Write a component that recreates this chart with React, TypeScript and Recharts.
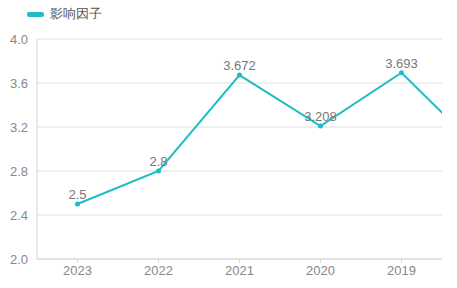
import React from 'react';
import { LineChart, Line, XAxis, YAxis, CartesianGrid, LabelList } from 'recharts';

const years = ['2023', '2022', '2021', '2020', '2019', '2018'];
const impactFactor = [2.5, 2.8, 3.672, 3.208, 3.693, 2.97];
const yTicks = [2.0, 2.4, 2.8, 3.2, 3.6, 4.0];
const visibleCount = 5;
const seriesName = '影响因子';

const data = years.map((year, i) => ({
  idx: i,
  year,
  value: impactFactor[i],
  label: i < visibleCount ? impactFactor[i] : null,
}));

const TEAL = '#1fbcc6';
const FONT = '"Liberation Sans", Arial, sans-serif';

export default function App() {
  return (
    <div style={{ position: 'absolute', left: 0, top: 0, width: 457, height: 288, background: '#fff', fontFamily: FONT }}>
      <div style={{ position: 'absolute', left: 27, top: 5, display: 'flex', alignItems: 'center', fontSize: 13, color: '#555' }}>
        <span style={{ display: 'inline-block', width: 17, height: 5, borderRadius: 2, background: TEAL, marginRight: 6 }} />
        <span>{seriesName}</span>
      </div>
      <LineChart width={457} height={288} data={data} margin={{ top: 39, right: 15, left: 0, bottom: 0 }}>
        <CartesianGrid vertical={false} stroke="#e0e0e0" />
        <XAxis
          dataKey="idx"
          type="number"
          domain={[-0.5, visibleCount - 0.5]}
          ticks={[0, 1, 2, 3, 4]}
          allowDataOverflow
          tickFormatter={(i: number) => years[i]}
          height={29}
          stroke="#d6d6d6"
          tickSize={4}
          tickMargin={3}
          tick={{ fill: '#888', fontSize: 13, fontFamily: FONT }}
        />
        <YAxis
          domain={[2, 4]}
          ticks={yTicks}
          width={37}
          stroke="#d6d6d6"
          tickLine={false}
          tickMargin={3}
          tickFormatter={(v: number) => v.toFixed(1)}
          tick={{ fill: '#888', fontSize: 13, fontFamily: FONT }}
        />
        <Line
          dataKey="value"
          stroke={TEAL}
          strokeWidth={2}
          dot={{ r: 2.5, fill: TEAL, stroke: TEAL, strokeWidth: 0 }}
          activeDot={false}
          isAnimationActive={false}
        >
          <LabelList dataKey="label" position="top" offset={5} fill="#777" fontSize={13} fontFamily={FONT} />
        </Line>
      </LineChart>
    </div>
  );
}
